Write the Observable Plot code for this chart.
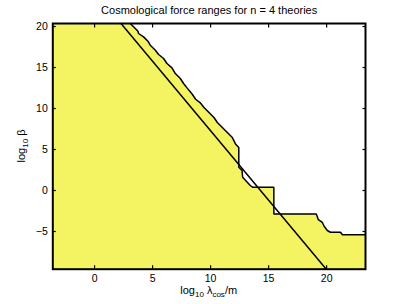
<!DOCTYPE html>
<html><head>
<meta charset="utf-8">
<script src="https://cdn.jsdelivr.net/npm/d3@7"></script>
<script src="https://cdn.jsdelivr.net/npm/@observablehq/plot@0.6"></script>
<style>body{margin:0;background:#fff} svg{display:block}</style>
</head><body><div id="chart"></div>
<script>
const titleText = "Cosmological force ranges for n = 4 theories";
const xDomain = [-3.6, 23.35];
const yDomain = [-9.6, 20.37];
const xTicks = [0, 5, 10, 15, 20];
const yTicks = [-5, 0, 5, 10, 15, 20];
const boundaryX = [3.08, 3.51, 3.74, 3.79, 4.22, 4.60, 4.80, 5.24, 5.52, 5.95, 6.24, 6.67, 6.96, 7.39, 7.67, 7.97, 8.42, 8.71, 9.14, 9.43, 9.86, 10.29, 10.58, 11.01, 11.44, 11.87, 12.16, 12.43, 12.43, 12.71, 12.76, 13.42, 13.62, 15.45, 15.45, 19.11, 19.28, 19.63, 19.80, 20.06, 20.32, 21.19, 21.36, 23.35];
const boundaryY = [20.37, 19.76, 19.43, 19.15, 18.74, 18.21, 17.72, 17.11, 16.59, 16.10, 15.49, 14.96, 14.27, 13.66, 13.05, 12.52, 11.74, 11.13, 10.65, 10.12, 9.51, 8.90, 8.29, 7.68, 7.07, 6.46, 5.65, 5.24, 2.84, 2.44, 1.62, 0.61, 0.40, 0.40, -2.87, -2.87, -3.54, -3.90, -4.39, -4.88, -5.09, -5.09, -5.40, -5.40];
const lineX = [2.28, 19.97];
const lineY = [20.37, -9.6];

const boundary = boundaryX.map((x, i) => ({x, y: boundaryY[i]}));
const fillData = [{x: xDomain[0], y: yDomain[1]}, ...boundary];
const diag = lineX.map((x, i) => ({x, y: lineY[i]}));

const font = "'Liberation Sans', Arial, Helvetica, sans-serif";
const tick = 3.5;
const W = 403, H = 304;

const plot = Plot.plot({
  width: W, height: H,
  marginLeft: 52.3, marginRight: 38, marginTop: 23, marginBottom: 35.3,
  style: {fontFamily: font, fontSize: "10.5px", color: "#000", background: "#fff"},
  x: {domain: xDomain},
  y: {domain: yDomain},
  marks: [
    Plot.areaY(fillData, {x: "x", y1: yDomain[0], y2: "y", fill: "#f4f462"}),
    Plot.line(boundary, {x: "x", y: "y", stroke: "#000", strokeWidth: 1.5, strokeLinejoin: "miter"}),
    Plot.line(diag, {x: "x", y: "y", stroke: "#000", strokeWidth: 1.5}),
    Plot.axisX(xTicks, {anchor: "bottom", tickSize: 0, tickPadding: 5, label: null, fontSize: 10.5}),
    Plot.axisY(yTicks, {anchor: "left", tickSize: 0, tickPadding: 5, label: null, fontSize: 10.5}),
    Plot.axisX(xTicks, {anchor: "bottom", tickSize: tick, dy: -tick, tickFormat: () => "", label: null, strokeWidth: 1.2}),
    Plot.axisX(xTicks, {anchor: "top", tickSize: tick, dy: tick, tickFormat: () => "", label: null, strokeWidth: 1.2}),
    Plot.axisY(yTicks, {anchor: "left", tickSize: tick, dx: tick, tickFormat: () => "", label: null, strokeWidth: 1.2}),
    Plot.axisY(yTicks, {anchor: "right", tickSize: tick, dx: -tick, tickFormat: () => "", label: null, strokeWidth: 1.2}),
    Plot.frame({stroke: "#000", strokeWidth: 2}),
    Plot.text([titleText], {frameAnchor: "top", dy: -9.5, lineAnchor: "bottom", text: d => d, fontSize: 11, fill: "#000"})
  ]
});

const svg = d3.select(plot);
// x axis label with subscripts
const xl = svg.append("text")
  .attr("x", 208.7).attr("y", 294)
  .attr("text-anchor", "middle")
  .attr("font-family", font).attr("font-size", 11).attr("fill", "#000");
xl.append("tspan").text("log");
xl.append("tspan").attr("font-size", 8).attr("dy", 3).text("10");
xl.append("tspan").attr("dy", -3).text(" λ");
xl.append("tspan").attr("font-size", 8).attr("dy", 3).text("cos");
xl.append("tspan").attr("dy", -3).text("/m");
// y axis label
const yl = svg.append("text")
  .attr("transform", "translate(25,146) rotate(-90)")
  .attr("text-anchor", "middle")
  .attr("font-family", font).attr("font-size", 11).attr("fill", "#000");
yl.append("tspan").text("log");
yl.append("tspan").attr("font-size", 8).attr("dy", 3).text("10");
yl.append("tspan").attr("dy", -3).text(" β");

document.getElementById("chart").appendChild(plot);
</script>
</body></html>
